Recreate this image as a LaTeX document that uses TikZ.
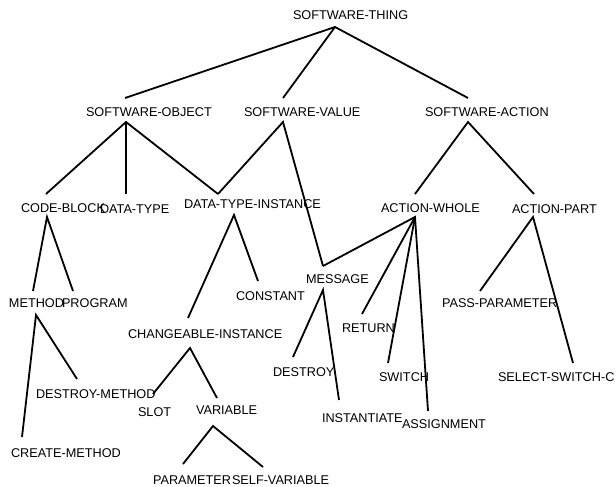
\documentclass[tikz,border=0pt]{standalone}
\usepackage{fontspec}
\setmainfont{Liberation Sans}
\begin{document}
\begin{tikzpicture}[x=1pt,y=-1pt,
  lbl/.style={anchor=base west,inner sep=0pt,outer sep=0pt,
    font=\fontsize{12.7}{15}\selectfont},
  edge/.style={line width=1.8pt,line join=miter,line cap=butt}]
\fill[white] (0,0) rectangle (616,487);
\useasboundingbox (0,0) rectangle (616,487);
\begin{scope}
\clip (0,0) rectangle (616,487);
% labels: base west placed at left edge, cap middle + 4.5
\node[lbl] (root) at (293,20.0)  {SOFTWARE-THING};
\node[lbl] (so)   at (86,116.0)  {SOFTWARE-OBJECT};
\node[lbl] (sv)   at (244,116.0) {SOFTWARE-VALUE};
\node[lbl] (sa)   at (425,116.0) {SOFTWARE-ACTION};
\node[lbl] (cb)   at (21,212.5)  {CODE-BLOCK};
\node[lbl] (dt)   at (100,213.5) {DATA-TYPE};
\node[lbl] (dti)  at (184,208.5) {DATA-TYPE-INSTANCE};
\node[lbl] (aw)   at (381,212.5) {ACTION-WHOLE};
\node[lbl] (ap)   at (512,213.5) {ACTION-PART};
\node[lbl] (me)   at (9,307.5)   {METHOD};
\node[lbl] (pr)   at (62,307.5)  {PROGRAM};
\node[lbl] (con)  at (236,300.0) {CONSTANT};
\node[lbl] (msg)  at (306,283.5) {MESSAGE};
\node[lbl] (ret)  at (342,332.5) {RETURN};
\node[lbl] (pp)   at (442,307.5) {PASS-PARAMETER};
\node[lbl] (ci)   at (128,338.5) {CHANGEABLE-INSTANCE};
\node[lbl] (dm)   at (36,398.5)  {DESTROY-METHOD};
\node[lbl] (cm)   at (11,457.5)  {CREATE-METHOD};
\node[lbl] (slot) at (138,416.5) {SLOT};
\node[lbl] (var)  at (196,414.5) {VARIABLE};
\node[lbl] (des)  at (273,376.5) {DESTROY};
\node[lbl] (sw)   at (379,381.5) {SWITCH};
\node[lbl] (ssc)  at (498,381.5) {SELECT-SWITCH-C};
\node[lbl] (inst) at (322,422.5) {INSTANTIATE};
\node[lbl] (asg)  at (402,428.5) {ASSIGNMENT};
\node[lbl] (par)  at (153,484.5) {PARAMETER};
\node[lbl] (selfv) at (232,484.5) {SELF-VARIABLE};
\end{scope}
% attachment points: -in where the parent line arrives, -out where child lines leave
\coordinate (root-out) at (335,27);
\coordinate (so-in) at (125,98);   \coordinate (so-out) at (126,122);
\coordinate (sv-in) at (283,98);   \coordinate (sv-out) at (283,122);
\coordinate (sa-in) at (468,98);   \coordinate (sa-out) at (468,122);
\coordinate (cb-in) at (46,194);   \coordinate (cb-out) at (47,217);
\coordinate (dt-in) at (126,194);
\coordinate (dti-in) at (218,194); \coordinate (dti-out) at (234,215);
\coordinate (aw-in) at (415,194);  \coordinate (aw-out) at (415,217);
\coordinate (ap-in) at (534,194);  \coordinate (ap-out) at (533,217);
\coordinate (me-in) at (33,291);   \coordinate (me-out) at (36,315);
\coordinate (pr-in) at (73,291);
\coordinate (con-in) at (258,281);
\coordinate (msg-in) at (323,266); \coordinate (msg-out) at (323,290);
\coordinate (ret-in) at (362,314);
\coordinate (pp-in) at (480,291);
\coordinate (ci-in) at (188,318);  \coordinate (ci-out) at (190,348);
\coordinate (dm-in) at (77,379);
\coordinate (cm-in) at (22,437);
\coordinate (slot-in) at (153,394);
\coordinate (var-in) at (217,398); \coordinate (var-out) at (213,426);
\coordinate (des-in) at (293,357);
\coordinate (sw-in) at (388,363);
\coordinate (ssc-in) at (573,363);
\coordinate (inst-in) at (339,400);
\coordinate (asg-in) at (428,411);
\coordinate (par-in) at (183,464);
\coordinate (selfv-in) at (263,467);
% tree edges
\draw[edge] (so-in) -- (root-out) -- (sa-in);
\draw[edge] (root-out) -- (sv-in);
\draw[edge] (cb-in) -- (so-out) -- (dti-in);
\draw[edge] (so-out) -- (dt-in);
\draw[edge] (dti-in) -- (sv-out) -- (msg-in);
\draw[edge] (aw-in) -- (sa-out) -- (ap-in);
\draw[edge] (me-in) -- (cb-out) -- (pr-in);
\draw[edge] (ci-in) -- (dti-out) -- (con-in);
\draw[edge] (msg-in) -- (aw-out) -- (asg-in);
\draw[edge] (aw-out) -- (ret-in);
\draw[edge] (aw-out) -- (sw-in);
\draw[edge] (pp-in) -- (ap-out) -- (ssc-in);
\draw[edge] (cm-in) -- (me-out) -- (dm-in);
\draw[edge] (slot-in) -- (ci-out) -- (var-in);
\draw[edge] (des-in) -- (msg-out) -- (inst-in);
\draw[edge] (par-in) -- (var-out) -- (selfv-in);
\end{tikzpicture}
\end{document}
